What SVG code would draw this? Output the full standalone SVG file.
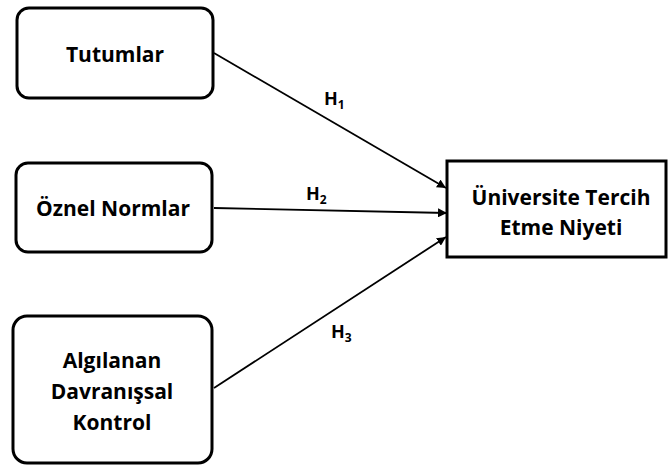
<svg xmlns="http://www.w3.org/2000/svg" width="669" height="469" viewBox="0 0 669 469">
<style>
.box{fill:#fff;stroke:#000;stroke-width:3}
.t{font-family:"Open Sans","Liberation Sans",sans-serif;font-weight:700;font-size:21px;fill:#000;text-anchor:middle}
.h{font-family:"Open Sans","Liberation Sans",sans-serif;font-weight:700;font-size:18px;fill:#000}
.sub{font-size:12px}
.c{stroke:#000;stroke-width:1.8;fill:none;marker-end:url(#ah)}
</style>
<defs>
<marker id="ah" viewBox="0 0 10 10" refX="10" refY="5" markerWidth="9" markerHeight="9" markerUnits="userSpaceOnUse" orient="auto">
<path d="M0,0 L10,5 L0,10 z" fill="#000"/>
</marker>
</defs>
<g id="connectors">
<line class="c" x1="214" y1="53" x2="446" y2="188"/>
<line class="c" x1="214" y1="208" x2="447" y2="213"/>
<line class="c" x1="214" y1="388" x2="446" y2="237"/>
<text class="h" x="324" y="105">H<tspan class="sub" dy="4">1</tspan></text>
<text class="h" x="306" y="200">H<tspan class="sub" dy="4">2</tspan></text>
<text class="h" x="331" y="338">H<tspan class="sub" dy="4">3</tspan></text>
</g>
<g id="tutumlar">
<rect class="box" x="17" y="8" width="196" height="90" rx="12"/>
<text class="t" x="115" y="62">Tutumlar</text>
</g>
<g id="oznel">
<rect class="box" x="16" y="163" width="196" height="89" rx="12"/>
<text class="t" x="113" y="216">Öznel Normlar</text>
</g>
<g id="algilanan">
<rect class="box" x="13" y="316" width="199" height="147" rx="14"/>
<text class="t" x="112" y="368">Algılanan</text>
<text class="t" x="112" y="399">Davranışsal</text>
<text class="t" x="112" y="430">Kontrol</text>
</g>
<g id="niyet">
<rect class="box" x="447" y="161" width="219" height="96"/>
<text class="t" x="561" y="205">Üniversite Tercih</text>
<text class="t" x="561" y="235">Etme Niyeti</text>
</g>
</svg>
